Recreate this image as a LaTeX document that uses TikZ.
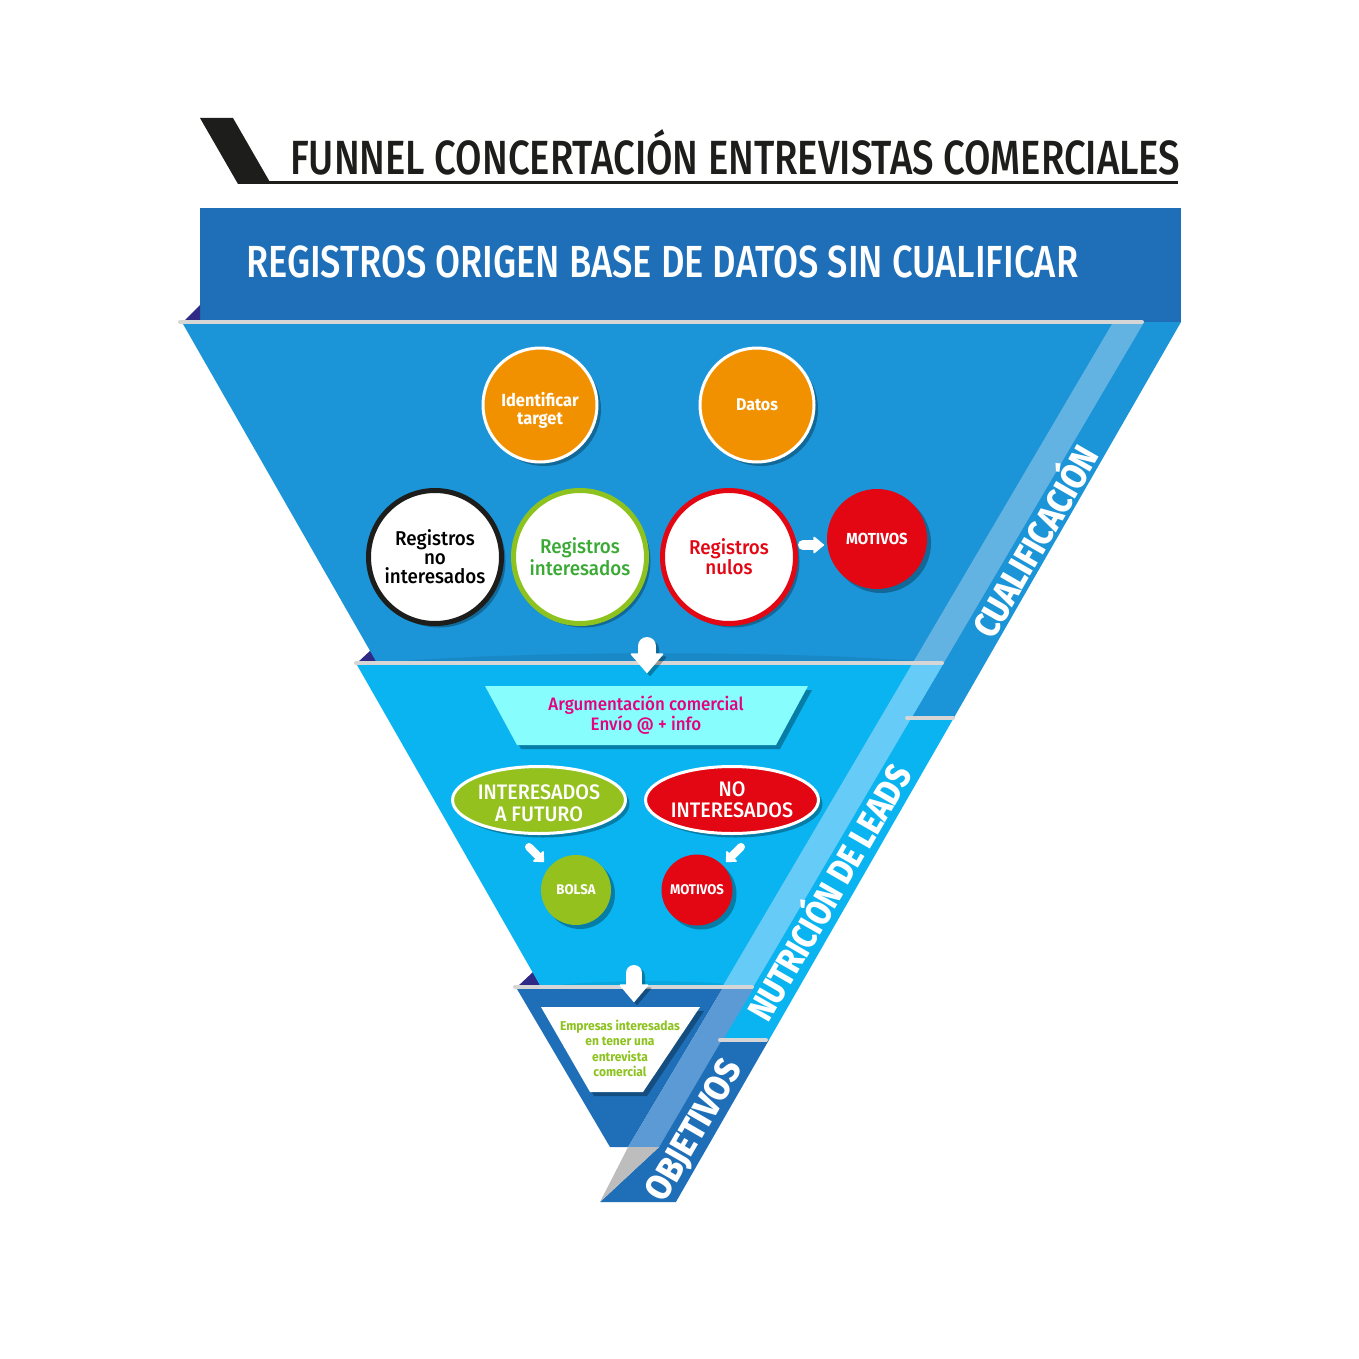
\documentclass[tikz,border=0pt]{standalone}
\usepackage{fontspec}
\setmainfont{Fira Sans}[FakeStretch=0.94]
\newfontfamily\med{Fira Sans Medium}[FakeStretch=0.94]
\newfontfamily\heavy{Fira Sans ExtraBold}[FakeStretch=0.9]
\usetikzlibrary{shadows,arrows.meta,shapes.geometric}
\definecolor{hdr}{HTML}{1E6FB8}
\definecolor{secA}{HTML}{1B95D7}
\definecolor{stripeA}{HTML}{62B2E2}
\definecolor{secB}{HTML}{0AB4F0}
\definecolor{stripeB}{HTML}{66CBF6}
\definecolor{stripeC}{HTML}{5B9AD4}
\definecolor{purp}{HTML}{2E2A86}
\definecolor{sep}{HTML}{D6D6D6}
\definecolor{orng}{HTML}{F29100}
\definecolor{rd}{HTML}{E30613}
\definecolor{lime}{HTML}{95C11F}
\definecolor{grn}{HTML}{3AAA35}
\definecolor{limeB}{HTML}{8DC21F}
\definecolor{aqua}{HTML}{88FDFE}
\definecolor{mag}{HTML}{E6007E}
\definecolor{greyT}{HTML}{BDBDBD}
\definecolor{ink}{HTML}{1D1D1B}
\newcommand\fitw[2]{\resizebox{#1}{\height}{#2}}
\newcommand\fs[2]{\fontsize{#1}{#2}\selectfont}
\newcommand\lowered[2]{\raisebox{-#1}[\height][\depth]{\begin{tabular}{@{}c@{}}#2\end{tabular}}}
\begin{document}
\begin{tikzpicture}[x=1pt,y=-1pt,
  shd/.style={drop shadow={shadow xshift=4pt,shadow yshift=-4pt,opacity=0.3,fill=black}},
  circ/.style={circle,inner sep=0pt,minimum size=#1,align=center},
  ell/.style={ellipse,inner sep=0pt,align=center},
  sepline/.style={draw=sep,line width=4pt,line cap=round},
  bandtxt/.style={text=white,rotate=60,inner sep=0pt,text depth=0pt},
  arrw/.style n args={3}{line width=#1,line cap=round,-{Triangle[length=#2,width=#3,round,line width=1.5pt]}},
]
\useasboundingbox (0,0) rectangle (1359,1359);
\fill[white] (0,0) rectangle (1359,1359);

% ---------- title
\fill[ink] (200,118) -- (233,118) -- (271,184) -- (238,184) -- cycle;
\fill[ink] (262,181) rectangle (1178,184);
\node[anchor=base west,inner sep=0pt,text=ink] (title) at (290,175)
  {\fitw{890pt}{\fs{48}{48}\med FUNNEL CONCERTACIÓN ENTREVISTAS COMERCIALES}};

% ---------- header
\fill[hdr] (200,208) rectangle (1181,322);
\node[anchor=base west,inner sep=0pt,text=white] (hdrtext) at (246,277)
  {\fitw{832pt}{\fs{45}{45}\med REGISTROS ORIGEN BASE DE DATOS SIN CUALIFICAR}};

% ---------- funnel body
\fill[purp] (183,322) -- (200,305) -- (200,322) -- cycle;
\fill[purp] (357,663) -- (371,650) -- (377,663) -- cycle;
\fill[purp] (517,987) -- (533,972) -- (541,987) -- cycle;

\fill[secA] (183,324) -- (1181,322) -- (953.7,718) -- (911.3,718) -- (943.7,663) -- (377,663) -- cycle;
\fill[black,opacity=0.08] (377,663) .. controls (520,650) and (800,650) .. (943.7,663) -- cycle;
\fill[stripeA] (1112,324) -- (1143,324) -- (943.7,663) -- (912.7,663) -- cycle;

\fill[secB] (357,665) -- (942.5,665) -- (911.3,718) -- (953.7,718) -- (768.9,1040) -- (722,1040) -- (753.2,987) -- (541,987) -- cycle;
\fill[black,opacity=0.07] (541,987) .. controls (600,979) and (700,979) .. (753.2,987) -- cycle;
\fill[stripeB] (911.5,665) -- (942.5,665) -- (753.2,987) -- (722.2,987) -- cycle;

\fill[hdr] (517,989) -- (722.2,989) -- (628.1,1147) -- (610,1147) -- cycle;
\fill[stripeC] (722.2,989) -- (753.2,989) -- (659.1,1147) -- (628.1,1147) -- cycle;
\fill[hdr] (722,1040) -- (768.9,1040) -- (675.9,1202) -- (600,1202) -- (659.1,1147) -- cycle;
\fill[greyT] (628.1,1147) -- (659.1,1147) -- (600,1202) -- cycle;

\draw[sepline] (180,322) -- (1142,322);
\draw[sepline] (356,663) -- (942,663);
\draw[sepline] (907,718) -- (953,718);
\draw[sepline] (515,987) -- (752,987);
\draw[sepline] (720,1040) -- (766,1040);

% ---------- band labels
\node[bandtxt,text height=25pt] (cual) at (1036,542)
  {\fitw{214pt}{\fs{36}{36}\heavy CUALIFICACIÓN}};
\node[bandtxt,text height=25pt] (nutri) at (830,893)
  {\fitw{288pt}{\fs{36}{36}\heavy NUTRICIÓN DE LEADS}};
\node[bandtxt,text height=25pt] (objet) at (693,1130)
  {\fitw{156pt}{\fs{36}{36}\heavy OBJETIVOS}};

% ---------- section 1
\node[circ=114pt,fill=orng,draw=white,line width=3pt,shd,text=white,font=\bfseries\fs{17.5}{17.5}] (ident) at (540,405) {\lowered{6pt}{Identificar\\target}};
\node[circ=114pt,fill=orng,draw=white,line width=3pt,shd,text=white,font=\bfseries\fs{17}{17}] (datos) at (757,405) {Datos};

\node[circ=133pt,fill=white,draw=ink,line width=5pt,shd,text=black,font=\med\fs{20}{19}] (noint) at (435,557) {Registros\\no\\interesados};
\node[circ=133pt,fill=white,draw=limeB,line width=5pt,shd,text=grn,font=\med\fs{20}{22}] (inter) at (580,557) {Registros\\interesados};
\node[circ=133pt,fill=white,draw=rd,line width=5pt,shd,text=rd,font=\med\fs{20}{20}] (nulos) at (729,557) {Registros\\nulos};
\node[circ=100pt,fill=rd,shd,text=white,font=\bfseries\fs{16}{16}] (motA) at (877,539) {MOTIVOS};

\coordinate (r1s) at (803,545);
\coordinate (r1e) at (824,545);
\draw[white,arrw={10pt}{11pt}{18pt}] (r1s) -- (r1e);

\coordinate (d1s) at (647,646);
\coordinate (d1e) at (647,673);
\begin{scope}[transparency group,opacity=0.3]
\draw[black,arrw={18pt}{20pt}{34pt},transform canvas={shift={(3pt,-3pt)}}] (d1s) -- (d1e);
\end{scope}
\draw[white,arrw={18pt}{20pt}{34pt}] (d1s) -- (d1e);

% ---------- section 2
\fill[aqua,shd] (485,686) -- (808,686) -- (776,745) -- (517,745) -- cycle;
\node[text=mag,align=center,font=\med\fs{18}{20}] (argu) at (646,715) {Argumentación comercial\\Envío @ + info};

\node[ell,minimum width=167pt,minimum height=67pt,fill=lime,draw=white,line width=3pt,shd,text=white,font=\med\fs{21}{22}] (futuro) at (539,800) {\lowered{6pt}{INTERESADOS\\A FUTURO}};
\node[ell,minimum width=167pt,minimum height=67pt,fill=rd,draw=white,line width=3pt,shd,text=white,font=\med\fs{21}{21}] (noint2) at (732,800) {NO\\INTERESADOS};

\node[circ=70pt,fill=lime,shd,text=white,font=\bfseries\fs{14}{14}] (bolsa) at (576,890) {BOLSA};
\node[circ=71pt,fill=rd,shd,text=white,font=\bfseries\fs{14}{14}] (motB) at (697,890) {MOTIVOS};

\coordinate (l1s) at (529,847);
\coordinate (l1e) at (544,862);
\coordinate (l2s) at (741,847);
\coordinate (l2e) at (726,862);
\draw[white,arrw={8pt}{9pt}{16pt}] (l1s) -- (l1e);
\draw[white,arrw={8pt}{9pt}{16pt}] (l2s) -- (l2e);

\coordinate (d2s) at (634,973);
\coordinate (d2e) at (634,1002);
\begin{scope}[transparency group,opacity=0.3]
\draw[black,arrw={16pt}{18pt}{30pt},transform canvas={shift={(3pt,-3pt)}}] (d2s) -- (d2e);
\end{scope}
\draw[white,arrw={16pt}{18pt}{30pt}] (d2s) -- (d2e);

% ---------- section 3
\fill[white,shd] (541,1007) -- (700,1007) -- (643,1092) -- (590,1092) -- cycle;
\node[text=limeB,align=center,font=\bfseries\fs{12.8}{15.5}] (empresas) at (620,1048.5) {Empresas interesadas\\en tener una\\entrevista\\comercial};
\end{tikzpicture}
\end{document}
